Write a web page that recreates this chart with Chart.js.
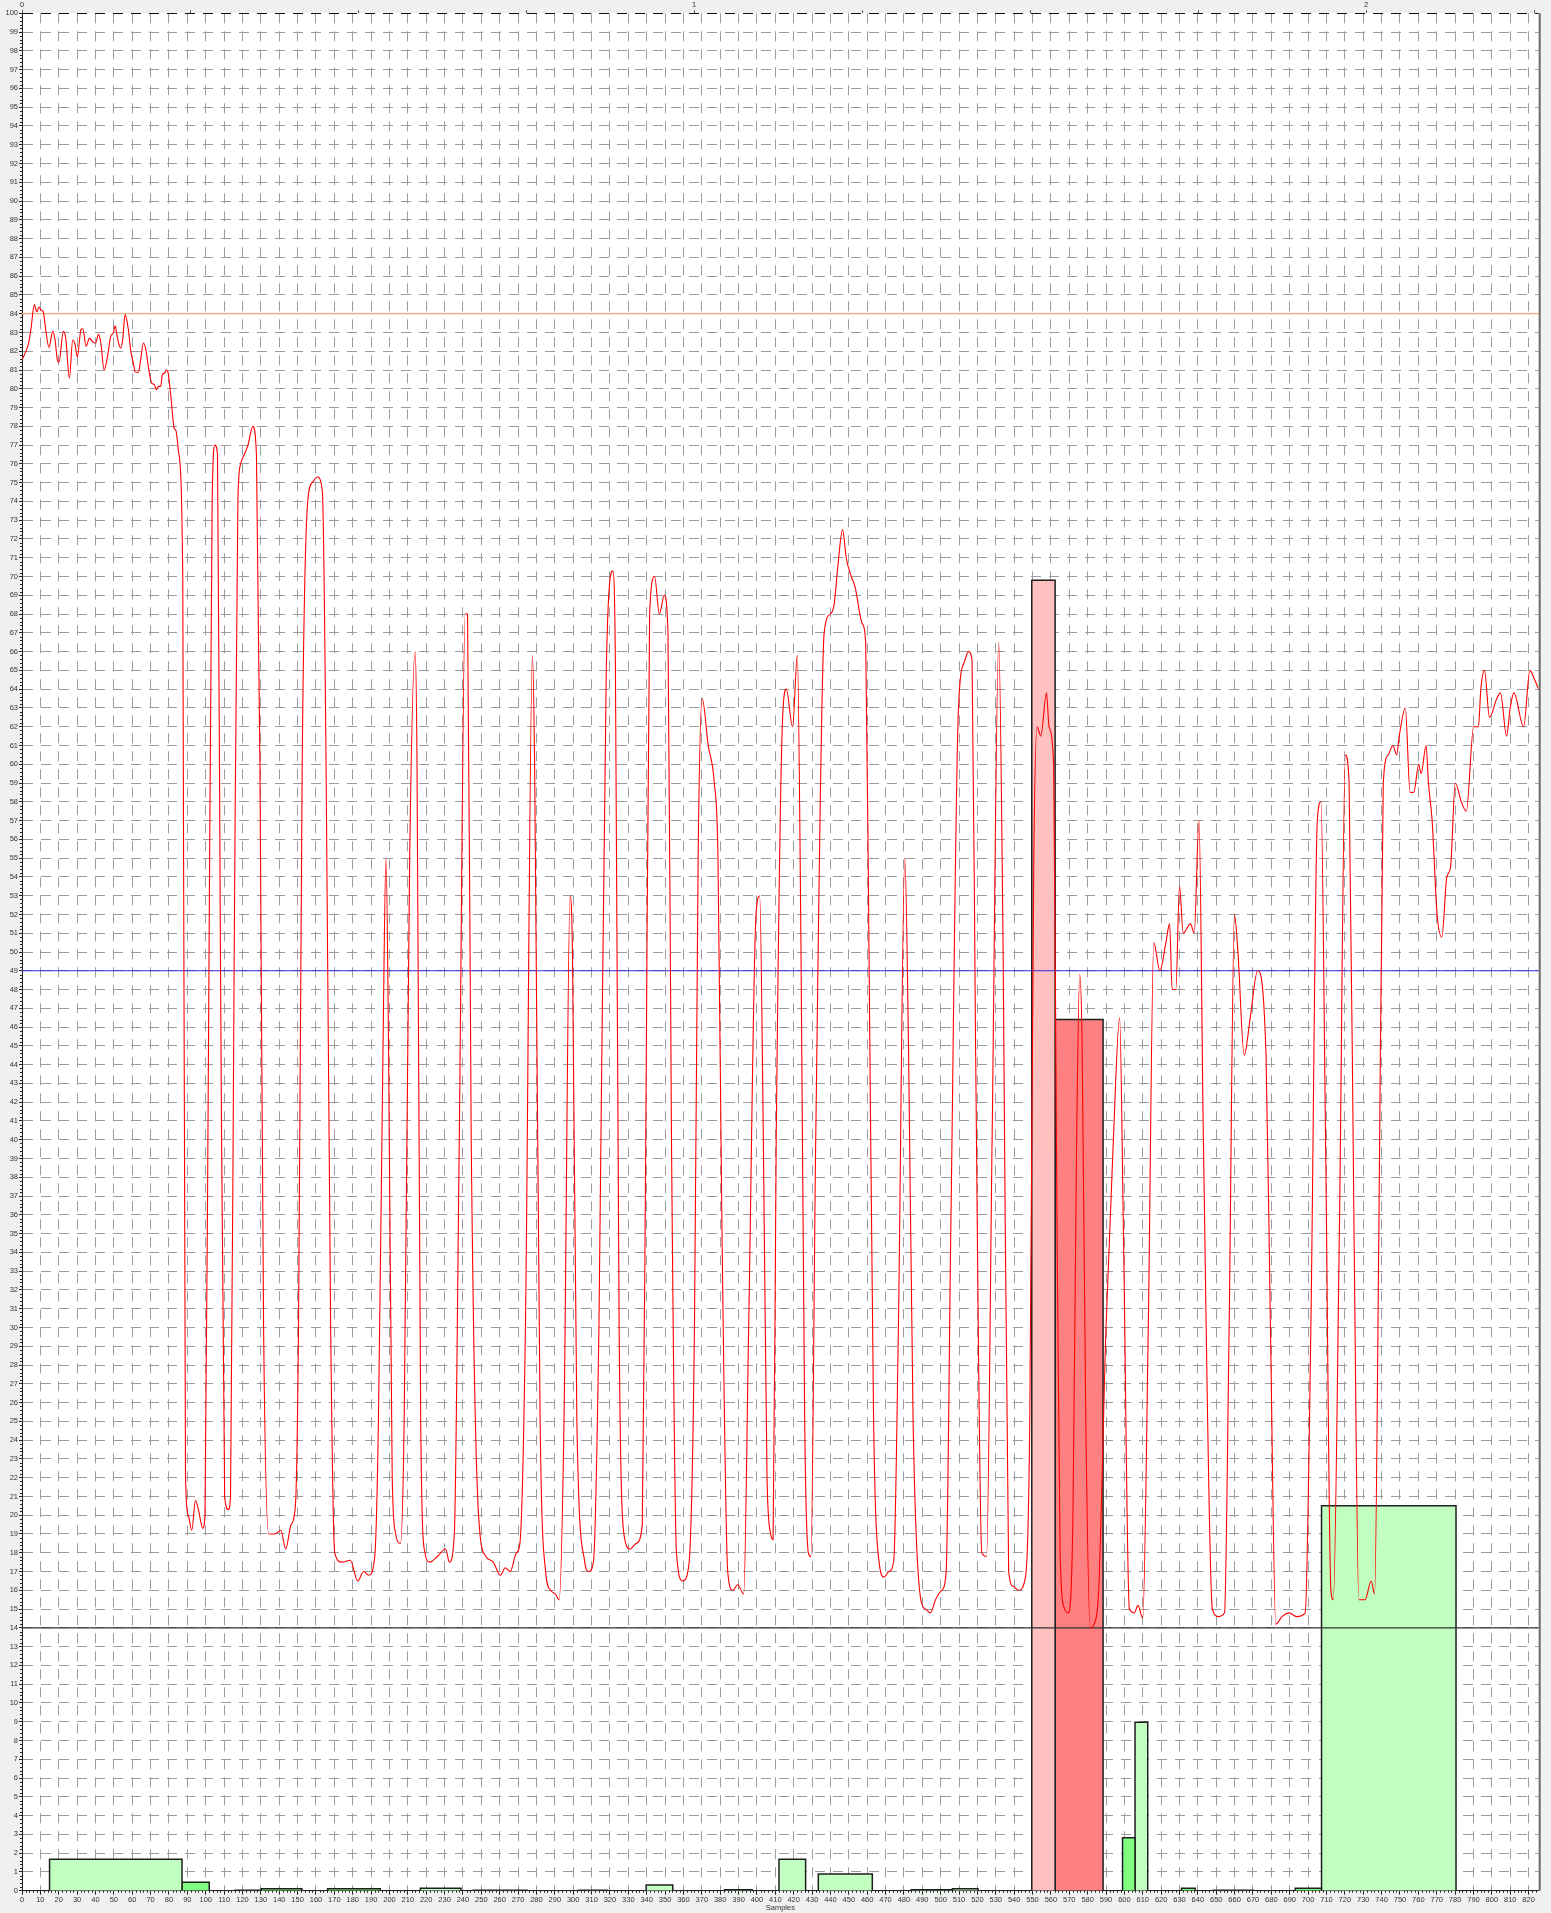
<!DOCTYPE html>
<html>
<head>
<meta charset="utf-8">
<script src="https://cdn.jsdelivr.net/npm/chart.js@4.4.0/dist/chart.umd.min.js"></script>
<style>
  body { margin: 0; background: #f0f0f0; }
  #wrap { width: 1551px; height: 1913px; }
</style>
</head>
<body>
<div id="wrap"><canvas id="c"></canvas></div>
<script>
// red trace (sample index, value)
const sampleX = [
  0, 3.4, 4.9, 6.7, 8, 9.3, 10.3, 11.6, 12.9, 14.7, 16.7, 18, 19.2, 20.1, 22.5, 23.8, 25.8, 27.6, 28.9, 30.1,
  32.1, 33.1, 34.9, 36.7, 38.5, 40.1, 41.6, 42.9, 44.7, 46.5, 48.3, 49.7, 50.7, 51.6, 52.8, 53.8, 54.8, 56.1, 57.9, 59.2,
  60.6, 61.5, 63.3, 64.6, 66.1, 67.4, 69.2, 70.6, 72.1, 73, 74.3, 75.5, 76.4, 77.7, 78.4, 79.4, 81.2, 82.8, 83.7, 85.1,
  87.5, 89, 90.5, 92.4, 94.4, 96, 98.4, 99.6, 101.5, 103.5, 105, 106.4, 108, 110.3, 112.3, 113.5, 115.5, 117.5, 119, 121,
  123, 125.6, 127.6, 129.5, 131.5, 134.3, 137.6, 140.9, 143.5, 146.5, 148.8, 150.5, 152.5, 155.5, 158, 160.8, 163.5, 165.5, 168, 170.2,
  174.2, 178.7, 182.7, 186, 188.7, 192, 194, 196.5, 198.1, 199.5, 201.5, 203.4, 206, 208, 211, 214, 215, 217, 219.3, 222,
  226, 230.6, 232.6, 235.3, 238, 241.2, 242.5, 244.5, 248.5, 252.5, 256.5, 260.4, 263, 265.7, 269.1, 271, 274, 277.8, 279, 282,
  285, 287.7, 290.4, 292.4, 295, 298.3, 299.6, 302, 306.3, 308.3, 311, 314, 318, 321.6, 323, 325, 327.6, 331, 334.3, 337.6,
  339.5, 341.6, 344.3, 346.9, 349.6, 351.6, 353.5, 356.2, 359.6, 362.9, 366, 368, 370.2, 373.5, 376.8, 378.8, 381, 384.1, 386.8, 389.5,
  392.8, 395.5, 399.5, 401.5, 403.5, 405.5, 407.5, 408.8, 410.5, 414, 416, 419.4, 422, 424, 426, 428, 429.4, 432, 436.6, 440,
  442, 444, 446.6, 448.6, 451.3, 453.3, 457.3, 459.2, 461, 463.5, 466.5, 469.2, 471.8, 474.5, 477, 480.5, 482.5, 485, 489.2, 491.8,
  494.5, 497.2, 500.5, 503, 505.5, 509.7, 513.1, 515.1, 517.1, 519, 522.4, 525, 528, 531.6, 534, 537, 539.7, 542.3, 546.3, 548.5,
  550.7, 552.5, 554.5, 557.6, 559, 561.5, 563, 565, 567.5, 569.5, 572, 574, 575.7, 577, 579, 581.4, 583.5, 586, 590, 594,
  597.4, 599.5, 602.7, 605.4, 607.4, 610, 613, 616, 619.3, 622.6, 624.6, 626, 628, 630, 632, 636, 638, 640.6, 643, 647.9,
  651.2, 654.5, 657, 659.9, 661.8, 665.2, 668.5, 672.5, 677.1, 679.5, 682.4, 685.8, 689.7, 693.7, 698.4, 701.5, 705, 707, 709.5, 712.4,
  713.7, 717, 720.3, 722.3, 725, 727.6, 731, 734.3, 736.2, 738.5, 740.9, 743.6, 746.2, 748.2, 749.6, 752.9, 755.5, 757.5, 760.2, 761.5,
  764.2, 765.5, 767.5, 770.2, 772.8, 775.5, 777.5, 780.1, 783.4, 786.1, 790.1, 792.7, 794, 796, 798.7, 802.7, 804.7, 808, 810, 812,
  817.3, 820.7, 823.3, 825.5
];
const sampleY = [
  81.55, 82.35, 83.2, 84.48, 84.1, 84.35, 84.2, 84.1, 83.15, 82.2, 83.06, 82.6, 81.55, 81.4, 83.06, 82.7, 80.57, 82.6, 82.35, 81.7,
  83.15, 83.2, 82.26, 82.7, 82.5, 82.44, 82.9, 82.44, 81.0, 81.7, 82.8, 82.97, 83.36, 82.9, 82.35, 82.17, 82.6, 83.95, 83.15, 82.0,
  81.37, 80.9, 80.87, 81.55, 82.44, 82.08, 80.9, 80.3, 80.22, 79.95, 80.13, 80.13, 80.75, 80.84, 81.0, 80.9, 79.4, 77.9, 77.8, 76.75,
  70, 22, 20, 19.2, 20.8, 20.3, 19.3, 20, 45, 74, 77, 76.5, 50, 21, 20.3, 21, 50, 74, 76, 76.5,
  77, 78, 76.5, 60, 30, 19, 19, 19.2, 18.2, 19.5, 20.5, 30, 60, 74, 75, 75.3, 74.5, 60, 30, 18,
  17.5, 17.6, 16.5, 17, 16.8, 17.8, 25, 45, 55, 45, 22, 19, 18.5, 25, 55, 66, 60, 25, 18, 17.5,
  17.8, 18.2, 17.5, 19, 40, 68, 68, 40, 20, 17.8, 17.5, 16.8, 17.2, 17, 18, 18.5, 30, 65.8, 60, 25,
  17, 16, 15.8, 15.5, 25, 53, 50, 25, 17.5, 17, 17.5, 30, 65, 70.3, 65, 30, 19, 18.2, 18.5, 19.5,
  40, 68, 70, 68, 69, 67, 40, 18, 16.5, 17.3, 30, 55, 63.5, 61, 59, 55, 35, 17, 16, 16.3,
  15.8, 30, 52, 53, 40, 22, 19, 18.7, 40, 62.5, 64, 62, 65.8, 50, 25, 18, 17.8, 40, 67, 68,
  68.5, 70.5, 72.5, 71, 70, 69.5, 67.5, 66.5, 50, 25, 17.5, 16.7, 17, 17.6, 30, 55, 45, 25, 15.5, 15,
  14.8, 15.5, 16, 17, 35, 63, 65.5, 66, 65.5, 45, 18, 17.8, 40, 66.5, 50, 17, 16.2, 16, 16.8, 25,
  55, 62, 61.5, 63.8, 62, 60, 40, 18, 15, 14.8, 20, 40, 48.8, 45, 25, 14, 14.2, 16, 30, 40,
  46.5, 35, 15, 14.8, 15.2, 14.5, 30, 50.5, 49, 50.5, 51.5, 48, 48, 53.5, 51, 51.5, 51, 57, 40, 15,
  14.6, 14.8, 30, 52, 50, 44.5, 46.5, 49, 44.5, 30, 14.2, 14.6, 14.8, 14.6, 14.8, 30, 57, 58, 40, 16,
  15.5, 35, 60.5, 59, 35, 15.5, 15.5, 16.5, 15.8, 35, 59, 60.5, 61, 60.5, 61.5, 63, 58.5, 58.5, 60, 59.5,
  61, 59, 57, 52, 50.8, 54, 54.5, 59, 58, 57.5, 62, 62, 64, 65, 62.5, 63.5, 63.8, 61.5, 63, 63.8,
  62, 65, 64.5, 64
];

// histogram blocks: start sample, end sample, height, kind
const barStart  = [15, 87.1, 116, 130.2, 166.3, 216.8, 245.6, 302.8, 339.7, 382.4, 412, 433.4, 484, 506.4, 549.6, 562.3, 599, 605.8, 631.1, 648.5, 693, 707.3];
const barEnd    = [87.1, 101.9, 129.6, 152.3, 195, 238.9, 274.9, 318.4, 354.2, 397.4, 426.5, 462.8, 506.4, 520.3, 562.3, 588.4, 605.8, 612.7, 638.5, 670.1, 707.3, 780.5];
const barHeight = [1.67, 0.45, 0.03, 0.1, 0.1, 0.13, 0.03, 0.03, 0.3, 0.05, 1.67, 0.89, 0.05, 0.1, 69.8, 46.4, 2.82, 8.97, 0.13, 0.03, 0.13, 20.5];
const barKind   = ['ok', 'warn', 'ok', 'warn', 'warn', 'ok', 'ok', 'ok', 'ok', 'warn', 'ok', 'ok', 'warn', 'ok', 'high', 'alarm', 'warn', 'ok', 'warn', 'ok', 'warn', 'ok'];

const refLevels = [84, 49, 14];
const xMax = 825.5;
const samplesPerTopUnit = 365.8;
const topLabels = [0, 1, 2];

const kindColor = { ok: '#c0ffc0', warn: '#80ff80', high: '#ffc0c0', alarm: '#ff8080' };
const refColor = ['#f4a57a', '#2a2ae0', '#303030'];
const FONT = { family: "'Liberation Sans', Arial, sans-serif", size: 7.5 };
const GRID = '#9c9c9c';

const datasets = [];
datasets.push({
  data: sampleX.map((x, i) => ({ x, y: sampleY[i] })),
  borderColor: '#ff0000', borderWidth: 1.1, pointRadius: 0,
  cubicInterpolationMode: 'monotone', fill: false, order: 0
});
refLevels.forEach((v, i) => {
  datasets.push({
    data: [{ x: 0, y: v }, { x: xMax, y: v }],
    borderColor: refColor[i], borderWidth: 1.2, pointRadius: 0, fill: false, order: 1
  });
});
barStart.forEach((s, i) => {
  const e = barEnd[i], h = barHeight[i];
  datasets.push({
    data: [{ x: s, y: 0 }, { x: s, y: h }, { x: e, y: h }, { x: e, y: 0 }],
    borderColor: '#1e1e1e', borderWidth: 1.5, pointRadius: 0, tension: 0,
    backgroundColor: kindColor[barKind[i]], fill: 'origin', order: 2
  });
});

const frame = {
  id: 'frame',
  beforeDraw(chart) {
    const { ctx, chartArea: a } = chart;
    ctx.save();
    ctx.fillStyle = '#f0f0f0';
    ctx.fillRect(0, 0, chart.width, chart.height);
    ctx.fillStyle = '#ffffff';
    ctx.fillRect(a.left, a.top, a.right - a.left, a.bottom - a.top);
    ctx.restore();
  },
  afterDraw(chart) {
    const { ctx, chartArea: a, scales } = chart;
    ctx.save();
    ctx.strokeStyle = '#222';
    ctx.lineWidth = 1;
    ctx.beginPath();
    // minor ticks on the sample axis (every 2 samples)
    for (let v = 0; v <= xMax; v += 2) {
      if (v % 10 === 0) continue;
      const px = Math.round(scales.x.getPixelForValue(v)) + 0.5;
      ctx.moveTo(px, a.bottom); ctx.lineTo(px, a.bottom + 2);
    }
    // minor ticks on the value axis (every 0.2)
    for (let k = 0; k <= 500; k++) {
      if (k % 5 === 0) continue;
      const py = Math.round(scales.y.getPixelForValue(k / 5)) + 0.5;
      ctx.moveTo(a.left - 2, py); ctx.lineTo(a.left, py);
    }
    ctx.stroke();
    ctx.strokeStyle = '#6a6a6a';
    ctx.lineWidth = 2;
    ctx.beginPath();
    ctx.moveTo(a.right + 1, a.top); ctx.lineTo(a.right + 1, a.bottom);
    ctx.stroke();
    ctx.restore();
  }
};

new Chart(document.getElementById('c'), {
  type: 'line',
  data: { datasets },
  plugins: [frame],
  options: {
    responsive: true,
    maintainAspectRatio: false,
    animation: false,
    layout: { padding: { left: 0, right: 12.3, top: 0, bottom: 0 } },
    plugins: { legend: { display: false }, tooltip: { enabled: false } },
    scales: {
      x: {
        type: 'linear', position: 'bottom', min: 0, max: xMax,
        afterFit: s => { s.height = 22.3; },
        ticks: { stepSize: 10, autoSkip: false, includeBounds: false, maxRotation: 0, font: FONT, color: '#333', padding: 1 },
        grid: {
          color: c => (c.tick && c.tick.value === 0 ? 'rgba(0,0,0,0)' : GRID),
          tickColor: '#222', tickLength: 4, lineWidth: 1
        },
        border: { display: true, color: '#222', width: 1, dash: [10, 8] },
        title: { display: true, text: 'Samples', font: FONT, color: '#333', padding: { top: 0, bottom: 1 } }
      },
      top: {
        type: 'linear', position: 'top', min: 0, max: xMax / samplesPerTopUnit,
        afterFit: s => { s.height = 13.3; },
        ticks: {
          stepSize: 0.25, autoSkip: false, includeBounds: false, maxRotation: 0, font: FONT, color: '#333', padding: 1,
          callback: v => (topLabels.includes(v) ? String(v) : '')
        },
        grid: { drawOnChartArea: false, tickColor: '#555', tickLength: 3 },
        border: { display: false }
      },
      y: {
        type: 'linear', position: 'left', min: 0, max: 100,
        afterFit: s => { s.width = 22; },
        ticks: { stepSize: 1, autoSkip: false, font: FONT, color: '#333', padding: 1 },
        grid: {
          color: c => {
            if (!c.tick) return GRID;
            if (c.tick.value === 100) return '#111';
            if (c.tick.value === 0) return 'rgba(0,0,0,0)';
            return GRID;
          },
          tickColor: '#222', tickLength: 3, lineWidth: 1
        },
        border: { display: true, color: '#222', width: 1, dash: [10, 8] }
      }
    }
  }
});
</script>
</body>
</html>
